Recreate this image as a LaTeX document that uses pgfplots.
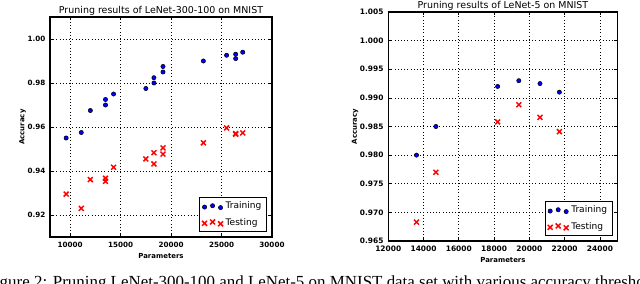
\documentclass[border=0pt]{standalone}
\usepackage{fontspec}
\usepackage{pgfplots}
\pgfplotsset{compat=1.18}
\setmainfont{DejaVu Sans}
\newfontfamily\capfont{Liberation Serif}
\definecolor{mblue}{RGB}{0,0,255}
\definecolor{mred}{RGB}{255,0,0}

\pgfplotsset{
  mystyle/.style={
    scale only axis,
    axis line style={line width=0.9pt},
    grid=major,
    major grid style={black, dotted, line width=0.5pt},
    tick align=inside,
    major tick length=2.5pt,
    tick style={black, line width=0.5pt},
    scaled ticks=false,
    /pgf/number format/assume math mode=true,
    xticklabel style={/pgf/number format/1000 sep={}},
    title style={at={(0.5,1)}, anchor=base, yshift=-3pt, font=\fontsize{7.1}{8}\selectfont},
    xlabel style={at={(0.5,0)}, anchor=center, yshift=-14.25pt, font=\bfseries\fontsize{5.2}{6}\selectfont},
    ylabel style={font=\bfseries\fontsize{5.2}{6}\selectfont, anchor=center},
    legend style={draw=black, line width=0.8pt, font=\fontsize{6.8}{8}\selectfont,
      at={(1,0)}, anchor=south east, xshift=-3.5pt, yshift=3.75pt,
      inner xsep=2pt, inner ysep=1.2pt, row sep=1.5pt},
    legend cell align=left,
    xlabel=Parameters, ylabel=Accuracy,
  },
  train/.style={only marks, mark=*, mark size=1.6pt,
    mark options={fill=mblue, draw=black, line width=0.4pt},
    legend image code/.code={\draw[##1] plot coordinates {(0pt,-0.4pt) (6pt,0.6pt) (12pt,-0.8pt)};}},
  test/.style={only marks, mark=x, mark size=2.6pt, color=mred,
    mark options={draw=mred, line width=1.1pt},
    legend image code/.code={\draw[##1] plot coordinates {(0pt,-0.4pt) (6pt,0.6pt) (12pt,-0.8pt)};}},
}

\begin{document}
\begin{tikzpicture}
\useasboundingbox (0,0) rectangle (480pt,212.25pt);

\begin{axis}[mystyle,
  at={(37.5pt,34.5pt)}, anchor=south west,
  width=166.5pt, height=165pt,
  xmin=8000, xmax=30000, ymin=0.91, ymax=1.01,
  xtick={10000,15000,20000,25000,30000},
  ytick={0.92,0.94,0.96,0.98,1.00},
  tick label style={font=\bfseries\fontsize{5.4}{6}\selectfont},
  yticklabel style={/pgf/number format/.cd, fixed, fixed zerofill, precision=2},
  ylabel style={at={(axis description cs:-0.123,0.5)}},
  title={Pruning results of LeNet-300-100 on MNIST},
]
\addplot[train] coordinates {
(9600,0.955) (11100,0.9575) (12000,0.9675) (13500,0.9725) (13500,0.970)
(14300,0.975) (17500,0.9775) (18300,0.9824) (18300,0.980) (19200,0.9875)
(19200,0.985) (23200,0.990) (25500,0.9926) (26400,0.9931) (26400,0.9911)
(27100,0.994)};
\addlegendentry{Training}
\addplot[test] coordinates {
(9600,0.9295) (11100,0.923) (12000,0.9361) (13500,0.9367) (13500,0.9353)
(14300,0.9417) (17500,0.9455) (18300,0.9483) (18300,0.9432) (19200,0.9505)
(19200,0.9477) (23200,0.9528) (25500,0.9596) (26400,0.9570) (26400,0.9567)
(27100,0.9573)};
\addlegendentry{Testing}
\end{axis}

\begin{axis}[mystyle,
  at={(291.2pt,31.5pt)}, anchor=south west,
  width=172pt, height=171.75pt,
  xmin=12000, xmax=25000, ymin=0.965, ymax=1.005,
  xtick={12000,14000,16000,18000,20000,22000,24000},
  ytick={0.965,0.970,0.975,0.980,0.985,0.990,0.995,1.000,1.005},
  tick label style={font=\bfseries\fontsize{5.6}{6}\selectfont},
  yticklabel style={/pgf/number format/.cd, fixed, fixed zerofill, precision=3},
  ylabel style={at={(axis description cs:-0.145,0.5)}},
  title={Pruning results of LeNet-5 on MNIST},
]
\addplot[train] coordinates {
(13600,0.980) (14700,0.985) (18200,0.992) (19400,0.993) (20600,0.9925) (21700,0.991)};
\addlegendentry{Training}
\addplot[test] coordinates {
(13600,0.9683) (14700,0.9770) (18200,0.9858) (19400,0.9888) (20600,0.9866) (21700,0.9841)};
\addlegendentry{Testing}
\end{axis}

\node[anchor=base west, inner sep=0pt, font=\capfont\fontsize{12.7}{14}\selectfont]
  at (-11pt,-3.2pt) {Figure 2: Pruning LeNet-300-100 and LeNet-5 on MNIST data set with various accuracy thresholds};
\end{tikzpicture}
\end{document}
